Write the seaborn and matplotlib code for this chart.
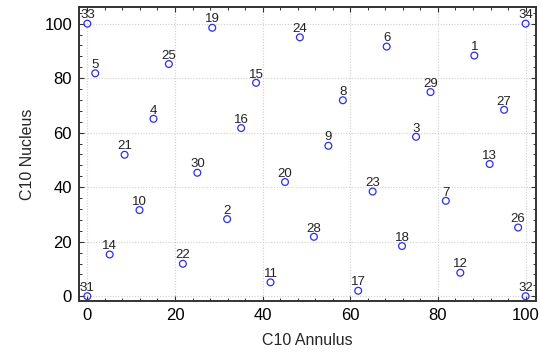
import matplotlib
matplotlib.use("Agg")
import matplotlib.pyplot as plt
from matplotlib.ticker import MultipleLocator
import seaborn as sns
import pandas as pd

labels = ["1", "2", "3", "4", "5", "6", "7", "8", "9", "10",
          "11", "12", "13", "14", "15", "16", "17", "18", "19", "20",
          "21", "22", "23", "24", "25", "26", "27", "28", "29", "30",
          "31", "32", "33", "34"]
annulus = [88.3, 31.9, 75.0, 15.1, 1.8, 68.3, 81.8, 58.3, 55.0, 11.9,
           41.8, 85.1, 91.8, 5.1, 38.5, 35.1, 61.8, 71.8, 28.5, 45.1,
           8.5, 21.8, 65.1, 48.5, 18.6, 98.3, 95.1, 51.7, 78.3, 25.1,
           0.0, 100.0, 0.0, 100.0]
nucleus = [88.3, 28.3, 58.5, 65.1, 81.8, 91.6, 35.0, 71.9, 55.2, 31.6,
           5.1, 8.6, 48.5, 15.3, 78.3, 61.7, 2.0, 18.4, 98.5, 41.9,
           51.9, 11.9, 38.4, 95.0, 85.2, 25.2, 68.4, 21.8, 74.9, 45.3,
           0.0, 0.0, 100.0, 100.0]

df = pd.DataFrame({"C10 Annulus": annulus, "C10 Nucleus": nucleus, "label": labels})

sns.set_style("white")
plt.rcParams["font.family"] = ["Liberation Sans", "DejaVu Sans"]

fig = plt.figure(figsize=(5.4, 3.53), dpi=100)
ax = fig.add_axes([0.1463, 0.147, 0.992 - 0.1463, 0.980 - 0.147])

sns.scatterplot(data=df, x="C10 Annulus", y="C10 Nucleus", ax=ax,
                marker="o", s=24, facecolor="none", edgecolor="#2b2bff",
                linewidth=0.9, zorder=3)

for xv, yv, lab in zip(df["C10 Annulus"], df["C10 Nucleus"], df["label"]):
    ax.annotate(lab, (xv, yv), xytext=(0, 3.8), textcoords="offset points",
                ha="center", va="baseline", fontsize=9.5, color="#222222",
                zorder=4)

ax.set_xlim(-1.9, 102.3)
ax.set_ylim(-1.8, 106.1)
ax.xaxis.set_major_locator(MultipleLocator(20))
ax.yaxis.set_major_locator(MultipleLocator(20))
ax.xaxis.set_minor_locator(MultipleLocator(4))
ax.yaxis.set_minor_locator(MultipleLocator(4))
ax.tick_params(which="both", direction="in", top=True, right=True,
               bottom=True, left=True, color="#333333")
ax.tick_params(which="major", length=3.5, width=0.8, labelsize=12, pad=5,
               labelcolor="black")
ax.tick_params(which="minor", length=2.5, width=0.7)

ax.grid(True, which="major", linestyle=(0, (1, 1.5)), color="#cfcfcf",
        linewidth=0.8, zorder=0)
for sp in ax.spines.values():
    sp.set_color("#333333")
    sp.set_linewidth(1.4)
    sp.set_visible(True)

ax.set_xlabel("C10 Annulus", fontsize=11.5)
ax.set_ylabel("C10 Nucleus", fontsize=11.5)
ax.xaxis.set_label_coords(0.5, -0.108)
ax.yaxis.set_label_coords(-0.097, 0.5)

fig.savefig("out.png", dpi=100)
